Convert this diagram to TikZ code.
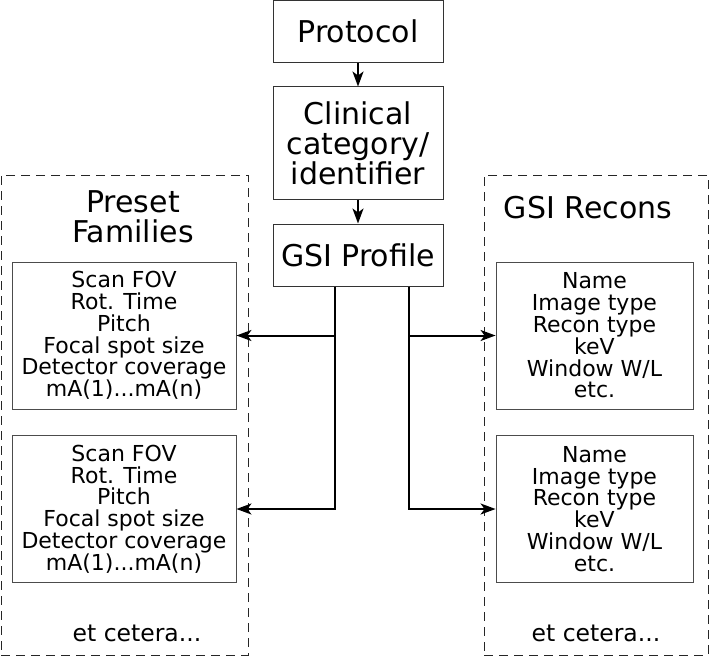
\documentclass[tikz,border=0pt]{standalone}
\usepackage{fontspec}
\setmainfont{DejaVu Sans}
\usetikzlibrary{arrows.meta}
\begin{document}
\begin{tikzpicture}[x=1pt,y=-1pt,
  mainbox/.style={draw=black!80, line width=1pt, minimum width=170pt, align=center,
    font=\fontsize{30}{30}\selectfont, inner sep=0pt},
  group/.style={draw=black!85, line width=0.9pt, dash pattern=on 9pt off 6pt},
  listbox/.style={draw=black!70, line width=0.9pt, align=center, inner sep=0pt,
    minimum height=147pt, font=\fontsize{22}{21.8}\selectfont},
  title/.style={align=center, font=\fontsize{30}{30}\selectfont, inner sep=0pt},
  etc/.style={font=\fontsize{23.5}{24}\selectfont, inner sep=0pt, anchor=base},
  arr/.style={line width=2pt, -{Stealth[length=15pt,width=11pt,inset=4pt]}}
]
\useasboundingbox (0,0) rectangle (709,658);

% dashed groups
\node[group, minimum width=247pt, minimum height=480pt] (lg) at (124.5,415) {};
\node[group, minimum width=224pt, minimum height=480pt] (rg) at (596,415) {};

% main chain
\node[mainbox, minimum height=62pt] (proto) at (358,31.5) {Protocol};
\node[mainbox, minimum height=112pt] (clin) at (358,143) {Clinical\\category/\\identifier};
\node[mainbox, minimum height=62pt] (gsi) at (358,255) {GSI Profile};

\draw[arr] (proto) -- (clin);
\draw[arr] (clin) -- (gsi);

% titles
\node[title] (pftitle) at (133,217) {Preset\\Families};
\node[title, anchor=base] (grtitle) at (588,218) {GSI Recons};

% list boxes
\node[listbox, minimum width=224pt] (pf1) at (124,335.5)
  {Scan FOV\\Rot. Time\\Pitch\\Focal spot size\\Detector coverage\\mA(1)...mA(n)};
\node[listbox, minimum width=224pt] (pf2) at (124,509)
  {Scan FOV\\Rot. Time\\Pitch\\Focal spot size\\Detector coverage\\mA(1)...mA(n)};
\node[listbox, minimum width=197pt] (gr1) at (594.5,335.5)
  {Name\\Image type\\Recon type\\keV\\Window W/L\\etc.};
\node[listbox, minimum width=197pt] (gr2) at (594.5,509)
  {Name\\Image type\\Recon type\\keV\\Window W/L\\etc.};

\node[etc] (etcl) at (137,641) {et cetera...};
\node[etc] (etcr) at (596,641) {et cetera...};

% connectors
\draw[arr] ([xshift=-23pt]gsi.south) |- (pf1.east);
\draw[arr] ([xshift=-23pt]gsi.south) |- (pf2.east);
\draw[arr] ([xshift=51pt]gsi.south) |- (gr1.west);
\draw[arr] ([xshift=51pt]gsi.south) |- (gr2.west);
\end{tikzpicture}
\end{document}
